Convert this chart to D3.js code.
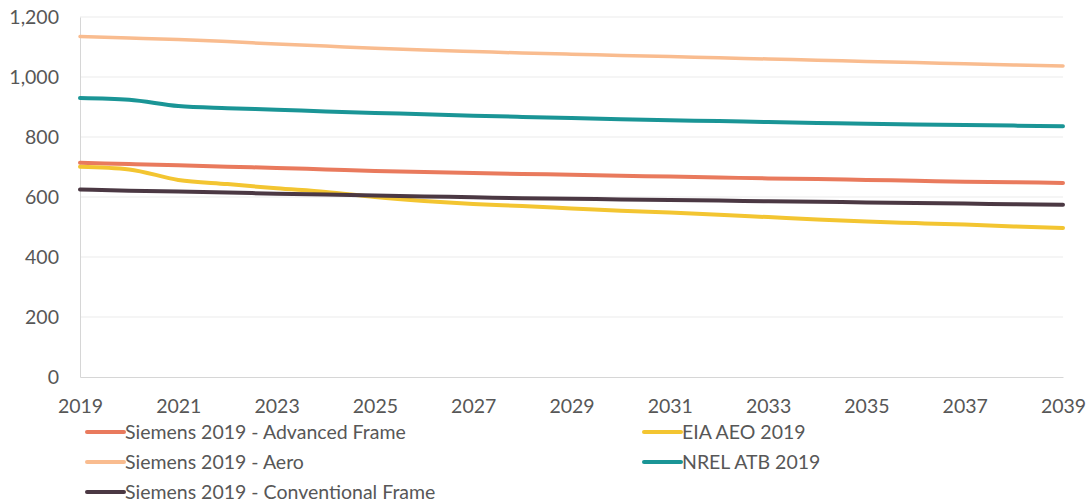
<!DOCTYPE html>
<html>
<head>
<meta charset="utf-8">
<script src="https://cdn.jsdelivr.net/npm/d3@7/dist/d3.min.js"></script>
<style>
  html, body { margin: 0; padding: 0; background: #fff; }
  svg { display: block; }
  text { font-family: Lato, "Open Sans", "Liberation Sans", sans-serif; fill: #575757; }
</style>
</head>
<body>
<svg id="chart" width="1091" height="502"></svg>
<script>
// Years on the x axis
const years = d3.range(2019, 2040);
const xTickYears = d3.range(2019, 2040, 2);
const yTicks = [0, 200, 400, 600, 800, 1000, 1200];

// Cost outlook per series, one value per year
const advancedFrame = [714, 710, 706, 701, 697, 692, 687, 683, 680, 677, 674, 671, 668, 665, 662, 660, 657, 654, 651, 649, 647];
const aero = [1135, 1130, 1125, 1118, 1110, 1103, 1096, 1090, 1085, 1080, 1076, 1072, 1068, 1064, 1060, 1056, 1052, 1048, 1044, 1040, 1037];
const conventionalFrame = [625, 621, 618, 615, 611, 608, 605, 602, 599, 596, 594, 592, 590, 588, 586, 584, 582, 580, 578, 576, 574];
const eiaAeo = [701, 692, 657, 643, 629, 617, 600, 587, 577, 570, 562, 554, 548, 541, 533, 525, 518, 513, 508, 502, 497];
const nrelAtb = [930, 924, 903, 896, 891, 885, 880, 876, 871, 867, 863, 859, 856, 853, 850, 847, 844, 842, 840, 838, 836];

const seriesNames = ["Siemens 2019 - Advanced Frame", "Siemens 2019 - Aero", "Siemens 2019 - Conventional Frame", "EIA AEO 2019", "NREL ATB 2019"];
const seriesValues = [advancedFrame, aero, conventionalFrame, eiaAeo, nrelAtb];
const seriesColors = ["#E97A5D", "#F9BC8F", "#4B3843", "#F3C531", "#1A9596"];

const svg = d3.select("#chart");
const margin = { left: 80, right: 28, top: 17, bottom: 125 };
const W = 1091, H = 502;
const fontSize = "19.5px";

const x = d3.scaleLinear().domain([2019, 2039]).range([margin.left, W - margin.right]);
const y = d3.scaleLinear().domain([0, 1200]).range([H - margin.bottom, margin.top]);

// Horizontal gridlines
svg.append("g")
  .selectAll("line")
  .data(yTicks.filter(d => d > 0))
  .join("line")
  .attr("x1", x(2019)).attr("x2", x(2039))
  .attr("y1", d => y(d)).attr("y2", d => y(d))
  .attr("stroke", "#ebebeb").attr("stroke-width", 1);

// Y axis
const yAxis = svg.append("g")
  .attr("transform", `translate(${x(2019)},0)`)
  .call(d3.axisLeft(y).tickValues(yTicks).tickSize(0).tickPadding(21).tickFormat(d3.format(",")));
yAxis.select(".domain").attr("stroke", "#d6d6d6");
yAxis.selectAll("text").style("font-size", fontSize).attr("fill", "#575757");

// X axis
const xAxis = svg.append("g")
  .attr("transform", `translate(0,${y(0)})`)
  .call(d3.axisBottom(x).tickValues(xTickYears).tickSize(0).tickPadding(22).tickFormat(d3.format("d")));
xAxis.select(".domain").attr("stroke", "#d6d6d6");
xAxis.selectAll("text").style("font-size", fontSize).attr("fill", "#575757");

// Series lines
const line = d3.line()
  .x((d, i) => x(years[i]))
  .y(d => y(d))
  .curve(d3.curveMonotoneX);

const drawOrder = [1, 4, 0, 3, 2];
svg.append("g")
  .selectAll("path")
  .data(drawOrder)
  .join("path")
  .attr("d", i => line(seriesValues[i]))
  .attr("fill", "none")
  .attr("stroke", i => seriesColors[i])
  .attr("stroke-width", i => i === 1 ? 3.5 : 4)
  .attr("stroke-linecap", "round")
  .attr("stroke-linejoin", "round");

// Legend in two columns
const legendPos = [
  { lx: 87, ly: 432 },
  { lx: 87, ly: 462 },
  { lx: 87, ly: 492 },
  { lx: 644, ly: 432 },
  { lx: 644, ly: 462 }
];
const legend = svg.append("g")
  .selectAll("g")
  .data(seriesNames)
  .join("g")
  .attr("transform", (d, i) => `translate(${legendPos[i].lx},${legendPos[i].ly})`);
legend.append("line")
  .attr("x1", 0).attr("x2", 37)
  .attr("y1", 0).attr("y2", 0)
  .attr("stroke", (d, i) => seriesColors[i])
  .attr("stroke-width", 4)
  .attr("stroke-linecap", "round");
legend.append("text")
  .attr("x", 38)
  .attr("y", 0)
  .attr("dy", "0.35em")
  .style("font-size", fontSize)
  .text(d => d);
</script>
</body>
</html>
